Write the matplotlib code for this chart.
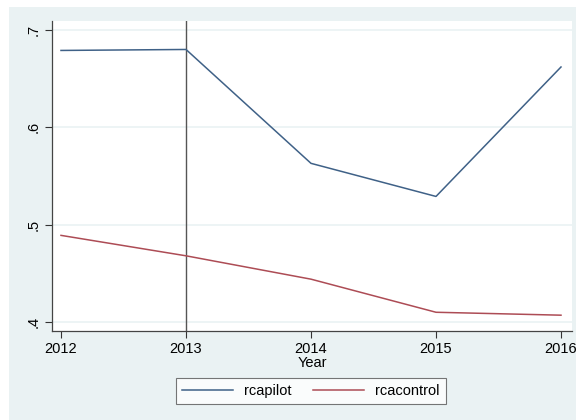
import matplotlib.pyplot as plt
from matplotlib.patches import Rectangle

plt.rcParams['font.family'] = ['Liberation Sans', 'DejaVu Sans']

years = [2012, 2013, 2014, 2015, 2016]
rcapilot = [0.679, 0.680, 0.563, 0.529, 0.662]
rcacontrol = [0.489, 0.468, 0.444, 0.410, 0.407]
yticks = [0.4, 0.5, 0.6, 0.7]
ytick_labels = ['.4', '.5', '.6', '.7']

W, H = 576, 420
bg = '#EAF2F3'
fs = 10.5

fig = plt.figure(figsize=(W / 100, H / 100), dpi=100, facecolor='white')
# Stata-style light background, with a thin white strip at top/left
fig.patches.append(Rectangle((9 / W, 0), 1, 1 - 7 / H, transform=fig.transFigure,
                             facecolor=bg, edgecolor='none', zorder=-10))

ax = fig.add_axes([52 / W, 1 - 331 / H, 520 / W, 310 / H])
ax.set_zorder(1)
ax.set_facecolor('white')

for yt in yticks:
    ax.axhline(yt, color=bg, lw=1.2, zorder=1)

ax.axvline(2013, color='#555555', lw=1.0, zorder=2)
l1, = ax.plot(years, rcapilot, color='#3f6187', lw=1.1, zorder=3)
l2, = ax.plot(years, rcacontrol, color='#ad4c55', lw=1.1, zorder=3)

ax.set_xlim(2012 - 9 / 125, 2016 + 11 / 125)
ax.set_ylim(0.4 - 9 / 973, 0.7 + 9 / 973)
ax.set_xticks(years)
ax.set_xticklabels([str(y) for y in years], fontsize=fs)
ax.set_yticks(yticks)
ax.set_yticklabels(ytick_labels, fontsize=fs, rotation=90, va='center')
ax.tick_params(direction='out', length=5, width=0.8, color='#333333', pad=3)
ax.set_xlabel('Year', fontsize=fs, labelpad=0)

for s in ['top', 'right']:
    ax.spines[s].set_visible(False)
for s in ['left', 'bottom']:
    ax.spines[s].set_color('#444444')
    ax.spines[s].set_linewidth(0.9)

leg = fig.legend([l1, l2], ['rcapilot', 'rcacontrol'], ncol=2,
                 loc='center', bbox_to_anchor=(311 / W, 1 - 391 / H),
                 frameon=True, fancybox=False, fontsize=fs,
                 handlelength=3.5, columnspacing=1.5, borderpad=0.4,
                 handletextpad=0.75)
leg.get_frame().set_edgecolor('#555555')
leg.get_frame().set_linewidth(0.8)

fig.savefig('out.png', dpi=100, facecolor='white')
